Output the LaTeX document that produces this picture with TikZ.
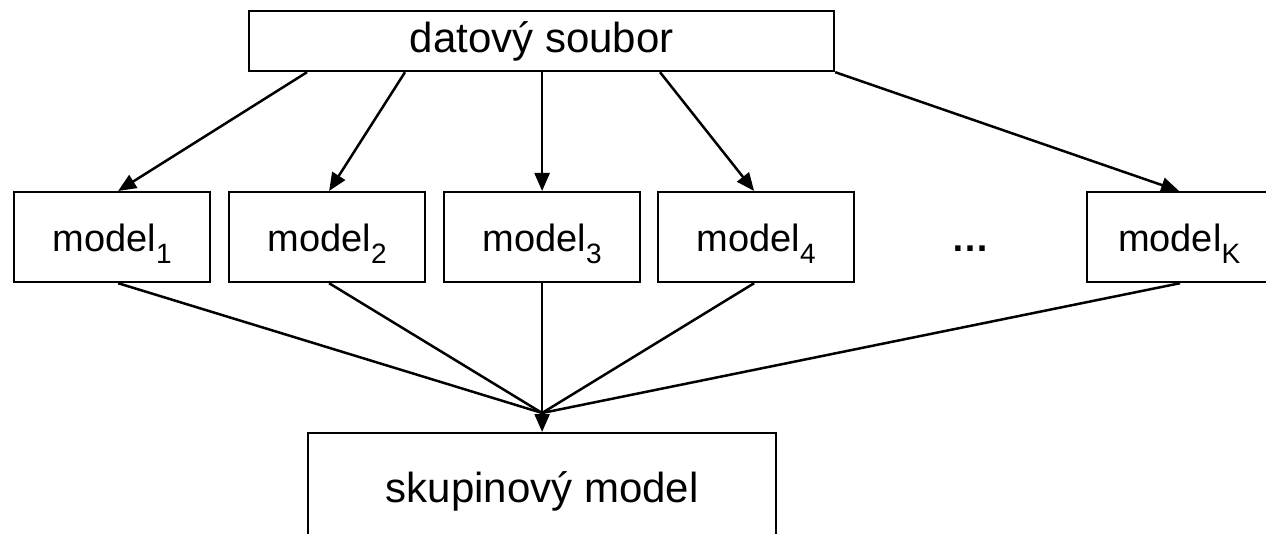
\documentclass[tikz,border=0pt]{standalone}
\usepackage{fontspec}
\setmainfont{Liberation Sans}
\usetikzlibrary{arrows.meta}
\newcommand{\mdl}[1]{model\raisebox{-12pt}{\fontsize{28}{28}\selectfont #1}}
\begin{document}
\begin{tikzpicture}[x=1pt,y=-1pt,
  box/.style={draw, line width=2.2pt, inner sep=0pt},
  bigtext/.style={font=\fontsize{42}{48}\selectfont},
  modeltext/.style={font=\fontsize{38}{44}\selectfont},
  mbox/.style={box, modeltext, minimum width=196pt, minimum height=90pt, anchor=north west, text height=30pt, text depth=2pt},
  conn/.style={line width=2.5pt},
  arr/.style={conn, -{Triangle[length=18pt,width=15pt]}},
]
\useasboundingbox (0,0) rectangle (1266,534);
\node[box, bigtext, minimum width=585pt, minimum height=60pt, anchor=north west] (data) at (248,10) {datový soubor};
\node[mbox] (m1) at (13,191) {\mdl{1}};
\node[mbox] (m2) at (228,191) {\mdl{2}};
\node[mbox] (m3) at (443,191) {\mdl{3}};
\node[mbox] (m4) at (657,191) {\mdl{4}};
\node[mbox, minimum width=190pt] (mK) at (1086,191) {\mdl{K}\hspace*{6pt}};
\node[modeltext, anchor=base] (dots) at (970,252) {\textbf{…}};
\node[box, bigtext, minimum width=468pt, minimum height=116pt, anchor=north] (ens) at (m3.south |- 0,432) {skupinový model};
\coordinate (lvl) at (0,413);
\coordinate (meet) at (m3.south |- lvl);
% top arrows
\draw[arr] ([xshift=59pt]data.south west) -- ([xshift=6pt]m1.north);
\draw[arr] ([xshift=157pt]data.south west) -- ([xshift=2pt]m2.north);
\draw[arr] (data.south -| m3.north) -- (m3.north);
\draw[arr] ([xshift=412pt]data.south west) -- ([xshift=-2pt]m4.north);
\draw[arr] (data.south east) -- ([xshift=-3pt]mK.north);
% bottom lines
\draw[conn] ([xshift=6pt]m1.south) -- (meet);
\draw[conn] ([xshift=2pt]m2.south) -- (meet);
\draw[conn] ([xshift=-2pt]m4.south) -- (meet);
\draw[conn] ([xshift=-2pt]mK.south) -- (meet);
\draw[arr] (m3.south) -- (ens.north);
\end{tikzpicture}
\end{document}
